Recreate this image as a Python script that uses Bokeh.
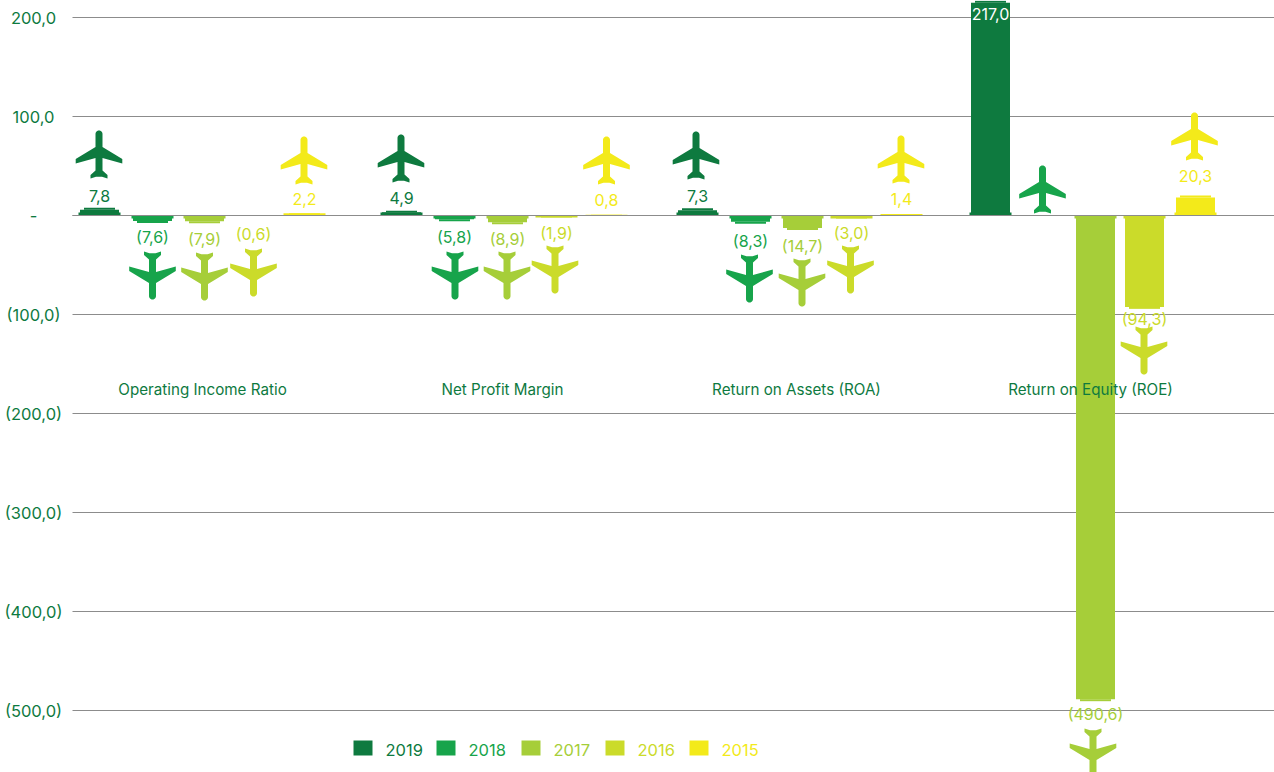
from bokeh.core.properties import value
from bokeh.embed import file_html
from bokeh.models import ColumnDataSource, Range1d
from bokeh.plotting import figure
from bokeh.resources import INLINE
import math

# Financial ratios by year, one list per year
categories = ["Operating Income Ratio", "Net Profit Margin", "Return on Assets (ROA)", "Return on Equity (ROE)"]
years = ["2019", "2018", "2017", "2016", "2015"]
v2019 = [7.8, 4.9, 7.3, 217.0]
v2018 = [-7.6, -5.8, -8.3, None]
v2017 = [-7.9, -8.9, -14.7, -490.6]
v2016 = [-0.6, -1.9, -3.0, -94.3]
v2015 = [2.2, 0.8, 1.4, 20.3]
series = [v2019, v2018, v2017, v2016, v2015]
y_ticks = [200, 100, 0, -100, -200, -300, -400, -500]
y_tick_labels = ["200,0", "100,0", "-", "(100,0)", "(200,0)", "(300,0)", "(400,0)", "(500,0)"]

# Layout: canvas-column positions and pixel rows
WIDTH, HEIGHT = 1274, 772
ZERO_ROW, PX_PER_UNIT = 215, 0.99
FONT = "Inter"
colors = ["#0E7A3F", "#17A44B", "#A6CE39", "#CBDB2A", "#F3EA1A"]
bar_cols = [
    [99, 401, 697, 990],
    [152, 454, 750, 1042],
    [204, 507, 802, 1095],
    [253, 556, 851, 1144],
    [304, 606, 901, 1195],
]
label_rows = [
    [195, 197, 195, 13],
    [236, 236, 240, None],
    [238, 238, 245, 713],
    [233, 232, 232, 318],
    [198, 199, 198, 175],
]
plane_cols = [
    [98.5, 400.5, 695.5, None],
    [152, 454.5, 749, 1042],
    [204, 506.5, 801.5, 1092.5],
    [253, 554.5, 850, 1143.5],
    [303.5, 606, 900.5, 1194],
]
plane_rows = [
    [154, 158, 155, None],
    [275, 275, 278, 189],
    [276, 275, 282, 752],
    [272, 269, 269, 350],
    [160, 160, 159, 136],
]
legend_cols = [353, 436, 521, 605, 689]
category_cols = [202, 502, 796, 1090]
TICK_COL = 33
RULE_START = 72


def to_value(row):
    return (ZERO_ROW - row) / PX_PER_UNIT


def fmt(v):
    text = f"{abs(v):.1f}".replace(".", ",")
    return f"({text})" if v < 0 else text


def plane_outline():
    half = [(3.5 * math.cos(a / 6 * math.pi / 2), 3.5 - 3.5 * math.sin(a / 6 * math.pi / 2)) for a in range(6, -1, -1)]
    half += [(3.5, 16.5), (23.3, 28.5), (23.3, 33), (3.5, 27.5), (3.5, 40), (8.5, 44.5), (8.5, 48), (3, 46.2), (0, 46.2)]
    left = [(-x, y) for x, y in reversed(half[:-1])]
    return [(x, y - 24) for x, y in half + left[:-1]]


OUTLINE = plane_outline()

p = figure(
    width=WIDTH,
    height=HEIGHT,
    x_range=Range1d(0, WIDTH),
    y_range=Range1d(to_value(HEIGHT), to_value(0)),
    output_backend="svg",
    toolbar_location=None,
    min_border=0,
    outline_line_color=None,
    background_fill_color="white",
    x_axis_type=None,
    y_axis_type=None,
)
p.grid.visible = False

# Value scale: labels centred in the left margin, rules running to the right edge
p.text([TICK_COL] * len(y_ticks), y_ticks, text=y_tick_labels, text_color=colors[0], text_align="center",
       text_baseline="middle", text_font=value(FONT), text_font_size="16.5px")
p.segment(x0=[RULE_START] * len(y_ticks), x1=[WIDTH] * len(y_ticks), y0=y_ticks, y1=y_ticks,
          line_color="#8C8C8C", line_width=1)

# Stepped bars: wide foot at the baseline, body, narrower cap at the end
for vals, cols, color in zip(series, bar_cols, colors):
    xs = [c for c, v in zip(cols, vals) if v is not None]
    vs = [v for v in vals if v is not None]
    sign = [1 if v > 0 else -1 for v in vs]
    body_end = [v - s * min(2, abs(v) / 3) for v, s in zip(vs, sign)]
    foot_end = [s * min(3, abs(v)) for v, s in zip(vs, sign)]
    p.vbar(x=xs, bottom=[0] * len(xs), top=body_end, width=39, fill_color=color, line_color=None)
    p.vbar(x=xs, bottom=body_end, top=vs, width=31, fill_color=color, line_color=None)
    p.vbar(x=xs, bottom=[0] * len(xs), top=foot_end, width=42, fill_color=color, line_color=None)

p.segment(x0=[RULE_START], x1=[WIDTH], y0=[0], y1=[0], line_color="#8C8C8C", line_width=1)

# Aeroplane pictograms: nose up for gains, nose down for losses
for vals, cols, rows, color in zip(series, plane_cols, plane_rows, colors):
    xs_all, ys_all = [], []
    for v, cx, row in zip(vals, cols, rows):
        if cx is None:
            continue
        flip = -1 if (v is not None and v < 0) else 1
        xs_all.append([cx + dx for dx, _ in OUTLINE])
        ys_all.append([to_value(row + flip * dy) for _, dy in OUTLINE])
    p.patches(xs_all, ys_all, fill_color=color, line_color=None)

# Value labels; the tallest bar reaches the top edge, so its label sits inside it in white
for vals, cols, rows, color in zip(series, bar_cols, label_rows, colors):
    xs, ys, txt, tc = [], [], [], []
    for v, cx, row in zip(vals, cols, rows):
        if v is None:
            continue
        xs.append(cx)
        ys.append(to_value(row))
        txt.append(fmt(v))
        tc.append("#FFFFFF" if v > 200 else color)
    src = ColumnDataSource(dict(x=xs, y=ys, text=txt, color=tc))
    p.text("x", "y", text="text", source=src, text_color="color", text_align="center",
           text_baseline="middle", text_font=value(FONT), text_font_size="16px")

# Category captions
p.text(category_cols, [to_value(389)] * 4, text=categories, text_color=colors[0], text_align="center",
       text_baseline="middle", text_font=value(FONT), text_font_size="15.2px")

# Year key along the bottom
for year, col, color in zip(years, legend_cols, colors):
    p.quad(left=[col], right=[col + 19], top=[to_value(740)], bottom=[to_value(755)],
           fill_color=color, line_color=None)
    p.text([col + 32], [to_value(749)], text=[year], text_color=color, text_align="left",
           text_baseline="middle", text_font=value(FONT), text_font_size="16.5px")

open("out.html", "w").write(file_html(p, INLINE))
